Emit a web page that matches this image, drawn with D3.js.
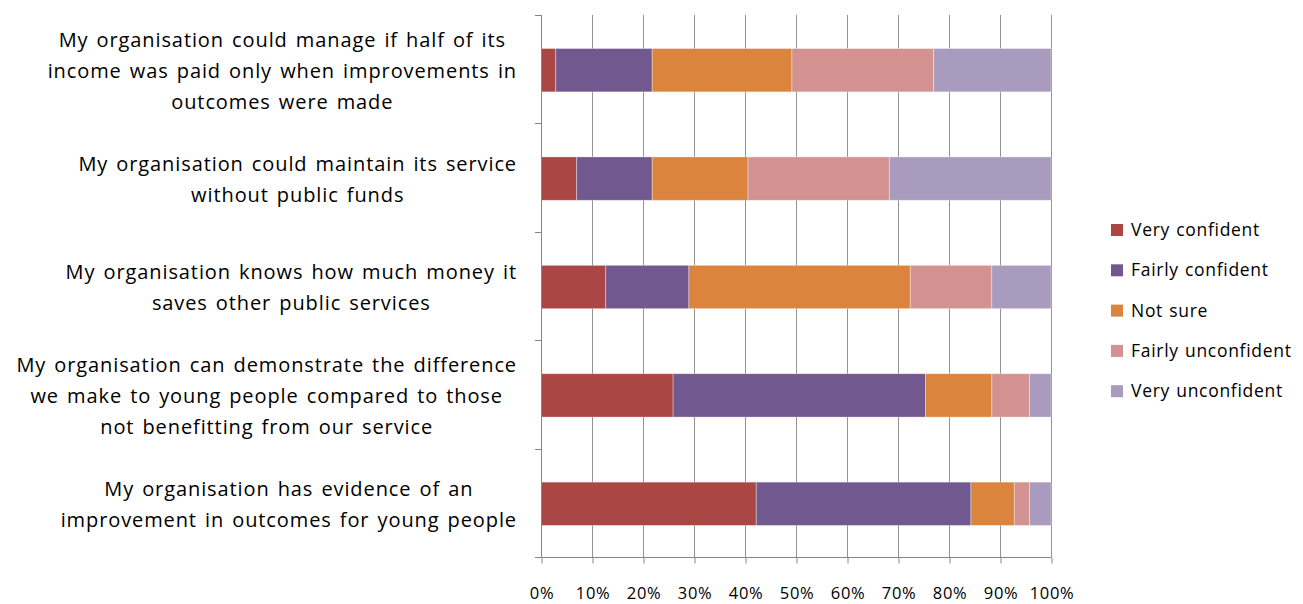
<!DOCTYPE html>
<html>
<head>
<meta charset="utf-8">
<script src="https://cdn.jsdelivr.net/npm/d3@7"></script>
<style>
  html, body { margin: 0; padding: 0; background: #fff; }
  svg { display: block; }
  text { font-family: "Open Sans", Lato, sans-serif; fill: #000; }
</style>
</head>
<body>
<svg id="chart" width="1303" height="604"></svg>
<script>
// Survey statements (top to bottom), each split onto the lines it is shown with
const statements = [
  ["My organisation could manage if half of its", "income was paid only when improvements in", "outcomes were made"],
  ["My organisation could maintain its service", "without public funds"],
  ["My organisation knows how much money it", "saves other public services"],
  ["My organisation can demonstrate the difference", "we make to young people compared to those", "not benefitting from our service"],
  ["My organisation has evidence of an", "improvement in outcomes for young people"]
];

// Response categories, in stacking order
const responses = ["Very confident", "Fairly confident", "Not sure", "Fairly unconfident", "Very unconfident"];

// Percentage of respondents per response, one array per response, in statement order
const veryConfident      = [2.9, 7.0, 12.7, 25.9, 42.2];
const fairlyConfident    = [18.9, 14.8, 16.3, 49.5, 42.1];
const notSure            = [27.4, 18.8, 43.4, 13.0, 8.5];
const fairlyUnconfident  = [27.8, 27.7, 16.0, 7.4, 3.0];
const veryUnconfident    = [23.0, 31.7, 11.6, 4.2, 4.2];

const tickValues = [0, 10, 20, 30, 40, 50, 60, 70, 80, 90, 100];
const tickLabels = ["0%", "10%", "20%", "30%", "40%", "50%", "60%", "70%", "80%", "90%", "100%"];

const colors = ["#AA4643", "#71588F", "#DB843D", "#D39290", "#A99BBD"];

const seriesValues = [veryConfident, fairlyConfident, notSure, fairlyUnconfident, veryUnconfident];
const rows = statements.map((lines, i) => {
  const row = { id: i, lines };
  responses.forEach((r, j) => { row[r] = seriesValues[j][i]; });
  return row;
});

const svg = d3.select("#chart");
const plot = { left: 541, right: 1051, top: 15, bottom: 557 };

const x = d3.scaleLinear().domain([0, 100]).range([plot.left, plot.right]);
const y = d3.scaleBand().domain(rows.map(d => d.id)).range([plot.top, plot.bottom]).paddingInner(0.6).paddingOuter(0.3);
const yOuter = d3.scaleBand().domain(rows.map(d => d.id)).range([plot.top, plot.bottom]);

// vertical gridlines
svg.append("g")
  .selectAll("line")
  .data(tickValues.slice(1))
  .join("line")
  .attr("x1", d => x(d) + 0.5).attr("x2", d => x(d) + 0.5)
  .attr("y1", plot.top).attr("y2", plot.bottom)
  .attr("stroke", "#939393").attr("stroke-width", 1);

// stacked bars
const stack = d3.stack().keys(responses);
const layers = stack(rows);
svg.append("g")
  .selectAll("g")
  .data(layers)
  .join("g")
  .attr("fill", (d, i) => colors[i])
  .selectAll("rect")
  .data(d => d)
  .join("rect")
  .attr("x", d => x(d[0]))
  .attr("width", d => x(d[1]) - x(d[0]))
  .attr("y", d => y(d.data.id) + 1)
  .attr("height", y.bandwidth())
  .attr("stroke", "rgba(255,255,255,0.45)")
  .attr("stroke-width", 0.8);

// x axis
const xAxis = d3.axisBottom(x)
  .tickValues(tickValues)
  .tickFormat((d, i) => tickLabels[i])
  .tickSize(6)
  .tickPadding(24);
const gx = svg.append("g")
  .attr("transform", `translate(0.5,${plot.bottom + 0.5})`)
  .call(xAxis);
gx.select(".domain").attr("stroke", "#868686").attr("d", `M${plot.left},0H${plot.right}`);
gx.selectAll(".tick line").attr("stroke", "#868686");
gx.selectAll(".tick text")
  .attr("font-size", 16.5)
  .attr("letter-spacing", 0.6)
  .attr("font-family", "'Open Sans', sans-serif")
  .attr("fill", "#000");

// y axis line with tick marks between categories
const gy = svg.append("g");
gy.append("line")
  .attr("x1", plot.left + 0.5).attr("x2", plot.left + 0.5)
  .attr("y1", plot.top).attr("y2", plot.bottom)
  .attr("stroke", "#868686");
const boundaries = rows.map(d => yOuter(d.id)).concat([plot.bottom]);
gy.selectAll("line.tk")
  .data(boundaries)
  .join("line")
  .attr("class", "tk")
  .attr("x1", plot.left - 6).attr("x2", plot.left)
  .attr("y1", d => Math.round(d) + 0.5).attr("y2", d => Math.round(d) + 0.5)
  .attr("stroke", "#868686");

// category labels: each block centred, right edge of the widest line aligned
const labelRight = 517;
const lineH = 31;
const labels = svg.append("g")
  .attr("font-size", 20)
  .attr("letter-spacing", 0.9)
  .attr("word-spacing", 2);
rows.forEach(row => {
  const cy = yOuter(row.id) + yOuter.bandwidth() / 2 + 1.5;
  const g = labels.append("g");
  const texts = row.lines.map((ln, k) =>
    g.append("text")
      .attr("text-anchor", "middle")
      .attr("y", cy + (k - (row.lines.length - 1) / 2) * lineH)
      .attr("dy", "0.35em")
      .text(ln));
  const maxW = d3.max(texts, t => t.node().getBBox().width);
  texts.forEach(t => t.attr("x", labelRight - maxW / 2));
});

// legend
const legend = svg.append("g")
  .attr("transform", "translate(1111,230)")
  .attr("font-size", 17.5)
  .attr("letter-spacing", 0.7)
  .attr("word-spacing", 1);
responses.forEach((r, i) => {
  const g = legend.append("g").attr("transform", `translate(0,${i * 40.3})`);
  g.append("rect").attr("x", 0).attr("y", -6).attr("width", 12).attr("height", 12).attr("fill", colors[i]);
  g.append("text").attr("x", 20).attr("y", 0).attr("dy", "0.35em").text(r);
});
</script>
</body>
</html>
